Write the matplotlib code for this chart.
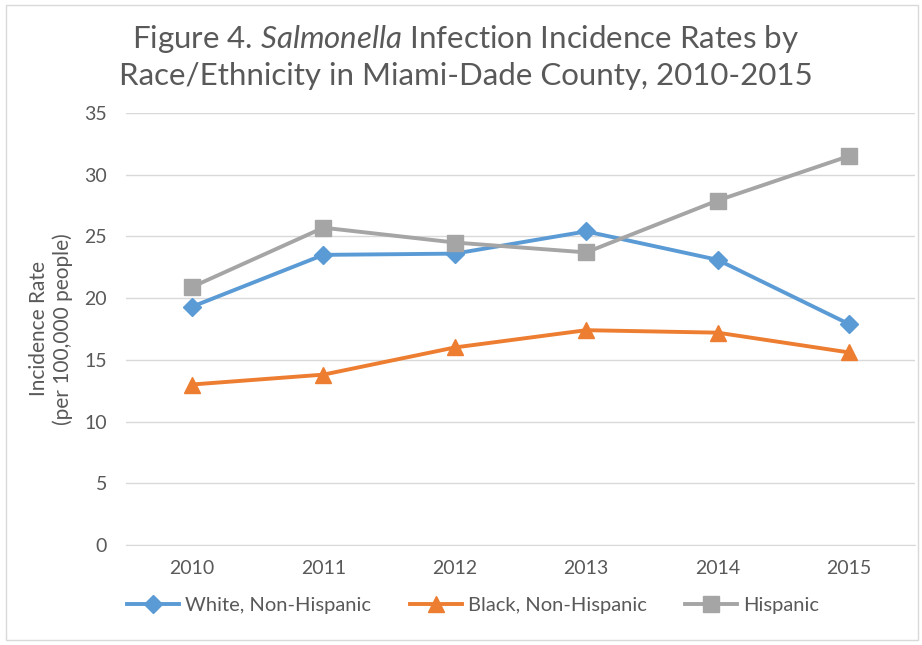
import matplotlib
matplotlib.use("Agg")
import matplotlib.pyplot as plt
from matplotlib.patches import Rectangle

plt.rcParams['font.family'] = ['Lato', 'DejaVu Sans']
plt.rcParams['mathtext.fontset'] = 'custom'
plt.rcParams['mathtext.rm'] = 'Lato'
plt.rcParams['mathtext.it'] = 'Lato:italic'

years = ['2010', '2011', '2012', '2013', '2014', '2015']
white = [19.3, 23.5, 23.6, 25.4, 23.1, 17.9]
black = [13.0, 13.8, 16.0, 17.4, 17.2, 15.6]
hispanic = [20.9, 25.7, 24.5, 23.7, 27.9, 31.5]

txt = '#595959'

fig = plt.figure(figsize=(9.22, 6.45), dpi=100)
ax = fig.add_axes([0.137, 0.155, 0.855, 0.67])

x = range(len(years))
ax.plot(x, white, color='#5B9BD5', lw=2.8, marker='D', ms=9, label='White, Non-Hispanic')
ax.plot(x, black, color='#ED7D31', lw=2.8, marker='^', ms=11.5, label='Black, Non-Hispanic')
ax.plot(x, hispanic, color='#A5A5A5', lw=2.8, marker='s', ms=11, label='Hispanic')

ax.set_xlim(-0.5, 5.5)
ax.set_ylim(0, 35)
ax.set_yticks(range(0, 36, 5))
ax.set_xticks(list(x))
ax.set_xticklabels(years)
ax.grid(axis='y', color='#d9d9d9', lw=1)
ax.set_axisbelow(True)
for s in ['top', 'right', 'left']:
    ax.spines[s].set_visible(False)
ax.spines['bottom'].set_color('#d9d9d9')
ax.tick_params(length=0, labelsize=14, colors=txt, pad=11)
ax.tick_params(axis='y', pad=14)
ax.set_ylabel('Incidence Rate\n(per 100,000 people)', fontsize=15, color=txt, labelpad=8)

fig.text(0.505, 0.94, 'Figure 4. $Salmonella$ Infection Incidence Rates by', ha='center', va='center',
         fontsize=22.5, color=txt)
fig.text(0.505, 0.882, 'Race/Ethnicity in Miami-Dade County, 2010-2015', ha='center', va='center',
         fontsize=22.5, color=txt)

ax.legend(loc='center', bbox_to_anchor=(0.44, -0.14), ncol=3, frameon=False, fontsize=14.5,
          labelcolor=txt, handlelength=2.6, columnspacing=1.9, handletextpad=0.3)

fig.patches.append(Rectangle((0.006, 0.008), 0.99, 0.985, transform=fig.transFigure,
                             fill=False, edgecolor='#d9d9d9', lw=1))

fig.savefig('out.png', dpi=100)
